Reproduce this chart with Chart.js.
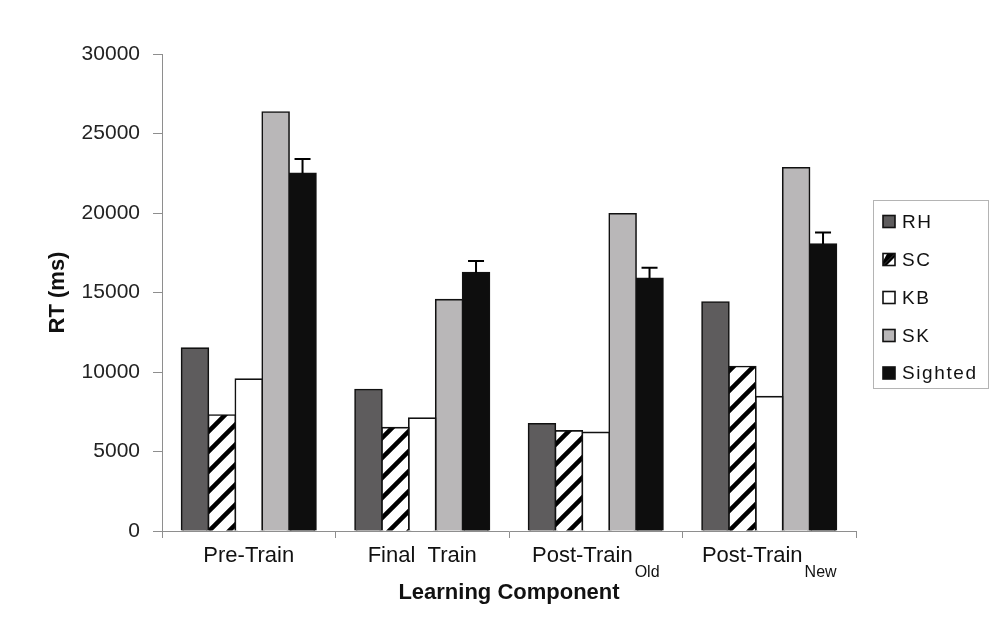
<!DOCTYPE html>
<html>
<head>
<meta charset="utf-8">
<script src="https://cdn.jsdelivr.net/npm/chart.js@4.4.1/dist/chart.umd.min.js"></script>
<style>
  html, body { margin: 0; padding: 0; background: #ffffff; }
  #wrap { width: 995px; height: 618px; position: relative; }
</style>
</head>
<body>
<div id="wrap"><canvas id="c" width="995" height="618"></canvas></div>
<script>
// ---- data ----
const categories = ["Pre-Train", "Final  Train", "Post-Train", "Post-Train"];
const categorySubscripts = ["", "", "Old", "New"];
const seriesNames = ["RH", "SC", "KB", "SK", "Sighted"];
const rhValues = [11500, 8900, 6750, 14400];
const scValues = [7300, 6500, 6300, 10350];
const kbValues = [9550, 7100, 6200, 8450];
const skValues = [26350, 14550, 19950, 22850];
const sightedValues = [22500, 16250, 15900, 18050];
const sightedErrors = [900, 730, 650, 730];
const yTicks = [0, 5000, 10000, 15000, 20000, 25000, 30000];

// hatch pattern for SC
function makeHatch() {
  const s = 20;
  const pc = document.createElement('canvas');
  pc.width = s; pc.height = s;
  const g = pc.getContext('2d');
  g.fillStyle = '#ffffff';
  g.fillRect(0, 0, s, s);
  g.strokeStyle = '#000000';
  g.lineWidth = 4.5;
  g.lineCap = 'square';
  g.beginPath();
  g.moveTo(-2, s + 2); g.lineTo(s + 2, -2);
  g.moveTo(-s / 2 - 2, s / 2 + 2); g.lineTo(s / 2 + 2, -s / 2 - 2);
  g.moveTo(s / 2 - 2, s * 1.5 + 2); g.lineTo(s * 1.5 + 2, s / 2 - 2);
  g.stroke();
  return document.getElementById('c').getContext('2d').createPattern(pc, 'repeat');
}
const hatch = makeHatch();

const fills = ['#5e5c5d', hatch, '#ffffff', '#b9b7b8', '#0e0e0e'];
const valueLists = [rhValues, scValues, kbValues, skValues, sightedValues];

const datasets = seriesNames.map((n, i) => ({
  label: n,
  data: valueLists[i],
  backgroundColor: fills[i],
  borderColor: '#111111',
  borderWidth: 1.6,
  borderSkipped: 'bottom',
  inflateAmount: 0.8,
  barPercentage: 1.0,
  categoryPercentage: 0.775
}));

const AXIS = '#8e8e8e';

const extras = {
  id: 'extras',
  afterDatasetsDraw(chart) {
    const ctx = chart.ctx;
    const y = chart.scales.y;
    // error bars on Sighted
    const meta = chart.getDatasetMeta(4);
    ctx.save();
    ctx.strokeStyle = '#000';
    ctx.lineWidth = 2;
    meta.data.forEach((bar, i) => {
      const top = y.getPixelForValue(sightedValues[i] + sightedErrors[i]);
      const base = y.getPixelForValue(sightedValues[i]);
      ctx.beginPath();
      ctx.moveTo(bar.x, base); ctx.lineTo(bar.x, top);
      ctx.moveTo(bar.x - 8, top); ctx.lineTo(bar.x + 8, top);
      ctx.stroke();
    });
    ctx.restore();
  },
  afterDraw(chart) {
    const ctx = chart.ctx;
    const x = chart.scales.x;
    ctx.save();
    ctx.fillStyle = '#111';
    ctx.textBaseline = 'alphabetic';
    ctx.textAlign = 'left';
    const mainFont = '22px "Liberation Sans", Arial, sans-serif';
    const subFont = '16px "Liberation Sans", Arial, sans-serif';
    categories.forEach((lab, i) => {
      ctx.font = mainFont;
      const w1 = ctx.measureText(lab).width;
      ctx.font = subFont;
      const sub = categorySubscripts[i];
      const w2 = sub ? ctx.measureText(sub).width + 2 : 0;
      const cx = x.getPixelForValue(i);
      const start = cx - (w1 + w2) / 2;
      ctx.font = mainFont;
      ctx.fillText(lab, start, 562);
      if (sub) {
        ctx.font = subFont;
        ctx.fillText(sub, start + w1 + 2, 577);
      }
    });
    // legend
    const lx = 873, ly = 200, lw = 115, lh = 188;
    ctx.strokeStyle = '#b4b4b4';
    ctx.lineWidth = 1;
    ctx.strokeRect(lx + 0.5, ly + 0.5, lw, lh);
    const rowY = [221.5, 259.5, 297.5, 335.5, 373];
    ctx.font = '19px "Liberation Sans", Arial, sans-serif';
    ctx.textBaseline = 'middle';
    try { ctx.letterSpacing = '1.6px'; } catch (e) {}
    seriesNames.forEach((n, i) => {
      const bx = 883, by = rowY[i] - 6, bs = 12;
      if (i === 1) {
        ctx.fillStyle = '#fff';
        ctx.fillRect(bx, by, bs, bs);
        ctx.fillStyle = '#000';
        ctx.beginPath();
        ctx.moveTo(bx, by + bs); ctx.lineTo(bx + bs, by); ctx.lineTo(bx + bs * 0.35, by); ctx.lineTo(bx, by + bs * 0.65);
        ctx.closePath();
        ctx.fill();
        ctx.beginPath();
        ctx.moveTo(bx, by + bs); ctx.lineTo(bx + bs, by); ctx.lineTo(bx + bs, by + bs * 0.3); ctx.lineTo(bx + bs * 0.3, by + bs);
        ctx.closePath();
        ctx.fill();
      } else {
        ctx.fillStyle = fills[i];
        ctx.fillRect(bx, by, bs, bs);
      }
      ctx.strokeStyle = '#111';
      ctx.lineWidth = 1.6;
      ctx.strokeRect(bx, by, bs, bs);
      ctx.fillStyle = '#111';
      ctx.fillText(n, 902, rowY[i] + 1);
    });
    ctx.restore();
  }
};

new Chart(document.getElementById('c'), {
  type: 'bar',
  data: { labels: categories.map((c, i) => c + (categorySubscripts[i] ? ' ' + categorySubscripts[i] : '')), datasets },
  options: {
    responsive: false,
    animation: false,
    layout: { padding: { top: 54, right: 139, left: 0, bottom: 0 } },
    plugins: { legend: { display: false }, tooltip: { enabled: false } },
    scales: {
      x: {
        grid: { offset: true, drawOnChartArea: false, color: AXIS, tickLength: 7 },
        border: { color: AXIS, width: 1 },
        ticks: { display: false },
        title: {
          display: true,
          text: 'Learning Component',
          color: '#111',
          font: { family: '"Liberation Sans", Arial, sans-serif', size: 22, weight: 'bold' },
          padding: { top: 0, bottom: 12 }
        },
        afterFit(s) { s.height = 87; }
      },
      y: {
        min: 0, max: 30000,
        afterBuildTicks(s) { s.ticks = yTicks.map(v => ({ value: v })); },
        grid: { drawOnChartArea: false, color: AXIS, tickLength: 9 },
        border: { color: AXIS, width: 1 },
        ticks: {
          color: '#222',
          padding: 13,
          callback: (v) => String(v),
          font: { family: '"Liberation Sans", Arial, sans-serif', size: 21 }
        },
        title: {
          display: true,
          text: 'RT (ms)',
          color: '#111',
          font: { family: '"Liberation Sans", Arial, sans-serif', size: 22, weight: 'bold' },
          padding: { top: 45, bottom: 0 }
        },
        afterFit(s) { s.width = 162; }
      }
    }
  },
  plugins: [extras]
});
</script>
</body>
</html>
